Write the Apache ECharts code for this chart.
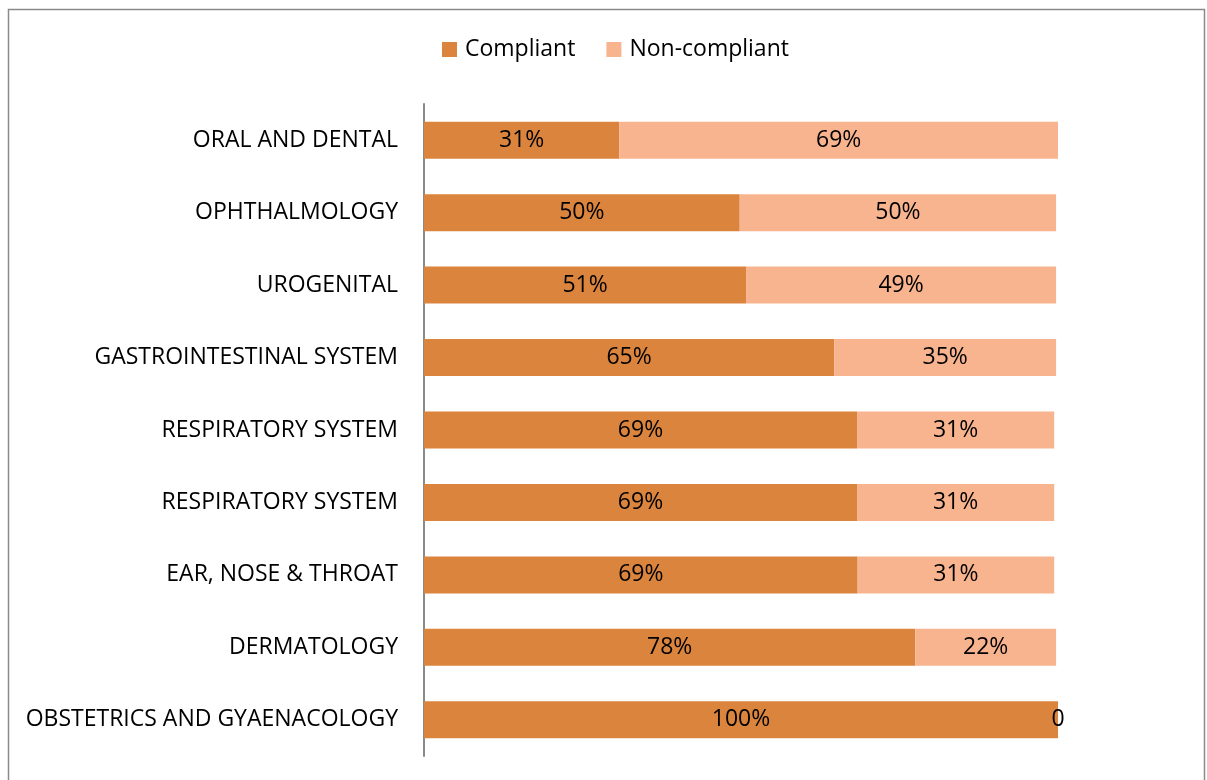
<!DOCTYPE html>
<html>
<head>
<meta charset="utf-8">
<script src="https://cdn.jsdelivr.net/npm/echarts@6/dist/echarts.min.js"></script>
<style>
html, body { margin: 0; padding: 0; background: #fff; }
#chart { width: 1207px; height: 780px; }
</style>
</head>
<body>
<div id="chart"></div>
<script>
// categories, top to bottom
const categories = [
	'ORAL AND DENTAL',
	'OPHTHALMOLOGY',
	'UROGENITAL',
	'GASTROINTESTINAL SYSTEM',
	'RESPIRATORY SYSTEM',
	'RESPIRATORY SYSTEM',
	'EAR, NOSE & THROAT',
	'DERMATOLOGY',
	'OBSTETRICS AND GYAENACOLOGY'
]
// bar lengths (%)
const compliant = [30.8, 49.8, 50.8, 64.7, 68.3, 68.3, 68.4, 77.5, 100]
const nonCompliant = [69.2, 49.9, 48.9, 35.0, 31.1, 31.1, 31.0, 22.2, 0]
// printed labels
const compliantLabels = ['31%', '50%', '51%', '65%', '69%', '69%', '69%', '78%', '100%']
const nonCompliantLabels = ['69%', '50%', '49%', '35%', '31%', '31%', '31%', '22%', '0']

const fontFamily = '"Open Sans", "Noto Sans", sans-serif'
const fontSize = 23

const chart = echarts.init(document.getElementById('chart'))

const option = {
	animation: false,
	textStyle: { fontFamily: fontFamily },
	legend: {
		top: 33,
		left: 437,
		itemWidth: 15,
		itemHeight: 15,
		itemGap: 31,
		icon: 'rect',
		textStyle: { fontSize: fontSize, color: '#000', fontFamily: fontFamily, padding: [0, 0, 0, 3] },
		data: ['Compliant', 'Non-compliant']
	},
	graphic: [{
		type: 'rect',
		shape: { x: 8.5, y: 9.5, width: 1196, height: 800 },
		style: { fill: 'none', stroke: '#8a8a8a', lineWidth: 1.5 },
		silent: true
	}],
	grid: { left: 424, right: 149, top: 104, bottom: 24 },
	xAxis: {
		type: 'value',
		min: 0,
		max: 100,
		show: false
	},
	yAxis: {
		type: 'category',
		inverse: true,
		data: categories,
		axisLine: { lineStyle: { color: '#8a8a8a', width: 2 } },
		axisTick: { show: false },
		axisLabel: { color: '#000', fontSize: fontSize, margin: 26, fontFamily: fontFamily }
	},
	series: [
		{
			name: 'Compliant',
			type: 'bar',
			stack: 'total',
			barWidth: 37,
			itemStyle: { color: '#DB843D' },
			label: {
				show: true,
				position: 'inside',
				color: '#000',
				fontSize: fontSize,
				fontFamily: fontFamily,
				formatter: p => compliantLabels[p.dataIndex]
			},
			data: compliant
		},
		{
			name: 'Non-compliant',
			type: 'bar',
			stack: 'total',
			barWidth: 37,
			itemStyle: { color: '#F8B48F' },
			label: {
				show: true,
				position: 'inside',
				color: '#000',
				fontSize: fontSize,
				fontFamily: fontFamily,
				formatter: p => nonCompliantLabels[p.dataIndex]
			},
			data: nonCompliant
		}
	]
}

chart.setOption(option)
</script>
</body>
</html>
